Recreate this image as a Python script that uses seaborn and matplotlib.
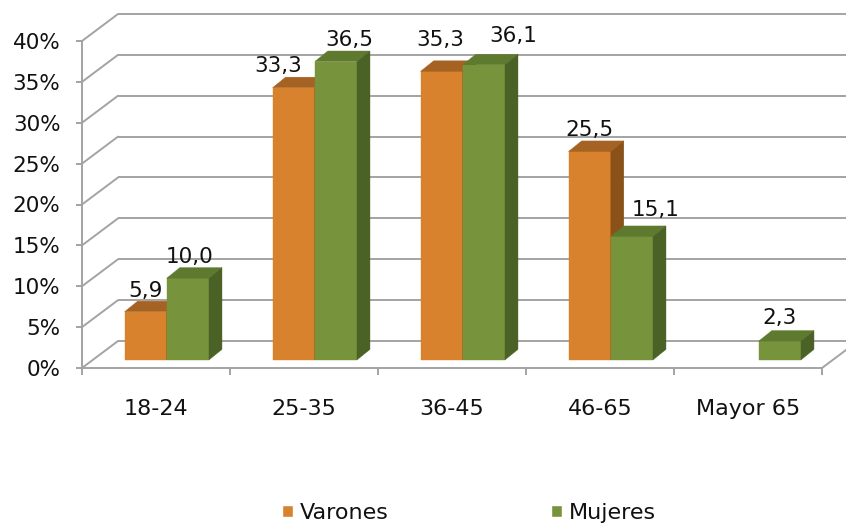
import numpy as np
import pandas as pd
import matplotlib
matplotlib.use("Agg")
import matplotlib.pyplot as plt
import seaborn as sns
from matplotlib.patches import Polygon
from matplotlib.transforms import ScaledTranslation
from matplotlib.ticker import FuncFormatter

# ---- data -------------------------------------------------------------
categories = ["18-24", "25-35", "36-45", "46-65", "Mayor 65"]
series = ["Varones", "Mujeres"]
varones = [5.9, 33.3, 35.3, 25.5, np.nan]   # no value for "Mayor 65"
mujeres = [10.0, 36.5, 36.1, 15.1, 2.3]
y_ticks = [0, 5, 10, 15, 20, 25, 30, 35, 40]

# ---- style ------------------------------------------------------------
front = {"Varones": "#D9822D", "Mujeres": "#77933C"}
top_c = {"Varones": "#A66223", "Mujeres": "#5E7A2E"}
side_c = {"Varones": "#8A5119", "Mujeres": "#4B6226"}
grid_c = "#A3A3A3"
text_c = "#111111"
# per-label nudges (pixels: dx, gap above the bar's top face)
label_nudge = {
    ("18-24", "Varones"): (0, 4), ("18-24", "Mujeres"): (2, 5),
    ("25-35", "Varones"): (-16, 5), ("25-35", "Mujeres"): (13, 5),
    ("36-45", "Varones"): (-1, 15), ("36-45", "Mujeres"): (29, 12),
    ("46-65", "Varones"): (0, 5), ("46-65", "Mujeres"): (24, 10),
    ("Mayor 65", "Mujeres"): (0, 7),
}

df = pd.DataFrame({
    "grupo": categories * 2,
    "sexo": [series[0]] * len(categories) + [series[1]] * len(categories),
    "pct": list(varones) + list(mujeres),
}).dropna()

sns.set_style("white")
plt.rcParams["font.family"] = ["DejaVu Sans"]

W, H, DPI = 846, 524, 100
fig = plt.figure(figsize=(W / DPI, H / DPI), dpi=DPI)
# front plane of the box: x 82..822 px, y 368 (0%) .. 41 (40%) px
ax = fig.add_axes([82 / W, (H - 368) / H, 740 / W, 327 / H])
ax.patch.set_alpha(0)

sns.barplot(data=df, x="grupo", y="pct", hue="sexo", order=categories,
            hue_order=series, palette=front, saturation=1, width=0.57,
            errorbar=None, dodge=True, ax=ax)

ax.set_xlim(-0.5, 4.5)
ax.set_ylim(0, 40)
px_x = 740 / 5.0      # pixels per category
px_y = 327 / 40.0     # pixels per percentage point

# depth of the box (back wall) and of the bars, in data units
BX, BY = 36 / px_x, 27 / px_y
DX, DY = 13 / px_x, 10.5 / px_y
# bars sit partway back inside the box
shift = ax.transData + ScaledTranslation(10.8 / DPI, 8.1 / DPI, fig.dpi_scale_trans)

# back wall and left wall gridlines
for v in y_ticks:
    ax.plot([-0.5 + BX, 4.5 + BX + 1], [v + BY, v + BY], color=grid_c,
            lw=1.4, clip_on=False, zorder=0.5, solid_capstyle="butt")
    ax.plot([-0.5, -0.5 + BX], [v, v + BY], color=grid_c, lw=1.4,
            clip_on=False, zorder=0.5)
# right edge of the floor
ax.plot([4.5, 4.5 + BX], [0, BY], color=grid_c, lw=1.4, clip_on=False, zorder=0.5)

# 3D faces and value labels
handles, labels = ax.get_legend_handles_labels()
if ax.legend_ is not None:
    ax.legend_.remove()

for si, (name, cont) in enumerate(zip(series, ax.containers)):
    z = 3 + si
    for p in cont.patches:
        h = p.get_height()
        if not np.isfinite(h) or h <= 0:
            continue
        x0, w = p.get_x(), p.get_width()
        p.set_transform(shift)
        p.set_zorder(z)
        p.set_edgecolor(front[name])
        p.set_linewidth(0.3)
        top = [(x0, h), (x0 + w, h), (x0 + w + DX, h + DY), (x0 + DX, h + DY)]
        side = [(x0 + w, 0), (x0 + w + DX, DY), (x0 + w + DX, h + DY), (x0 + w, h)]
        for pts, col in ((top, top_c[name]), (side, side_c[name])):
            ax.add_patch(Polygon(pts, closed=True, facecolor=col, edgecolor=col,
                                 lw=0.3, transform=shift, zorder=z, clip_on=False))
        cat = categories[int(round(x0 + w / 2))]
        ndx, gap = label_nudge.get((cat, name), (0, 5))
        ax.annotate(f"{h:.1f}".replace(".", ","), xy=(x0 + w / 2, h + DY),
                    xycoords=shift, xytext=(ndx * 0.72, gap * 0.72),
                    textcoords="offset points", ha="center", va="baseline",
                    fontsize=15.5, color=text_c, zorder=10,
                    annotation_clip=False)

# axes, ticks and labels
for s in ("top", "right"):
    ax.spines[s].set_visible(False)
for s in ("left", "bottom"):
    ax.spines[s].set_color(grid_c)
    ax.spines[s].set_linewidth(1.4)
    ax.spines[s].set_zorder(0.6)

ax.set_yticks(y_ticks)
ax.yaxis.set_major_formatter(FuncFormatter(lambda v, _: f"{v:.0f}%"))
ax.tick_params(axis="y", left=True, direction="out", length=4.5, width=1.4,
               color=grid_c, pad=11, labelsize=15.5, labelcolor=text_c)

ax.set_xticks(range(len(categories)))
ax.set_xticklabels(categories)
ax.set_xticks(np.arange(-0.5, len(categories)), minor=True)
ax.tick_params(axis="x", which="major", bottom=False, length=0, pad=22,
               labelsize=16, labelcolor=text_c)
ax.tick_params(axis="x", which="minor", bottom=True, direction="out",
               length=5, width=1.4, color=grid_c)
ax.set_xlabel("")
ax.set_ylabel("")

fig.legend(handles, labels, loc="center", bbox_to_anchor=(0.554, 0.021),
           ncol=2, frameon=False, fontsize=16, handlelength=0.5,
           handleheight=0.5, handletextpad=0.3, columnspacing=7.3,
           labelcolor=text_c)

fig.savefig("out.png", dpi=DPI, facecolor="white")
